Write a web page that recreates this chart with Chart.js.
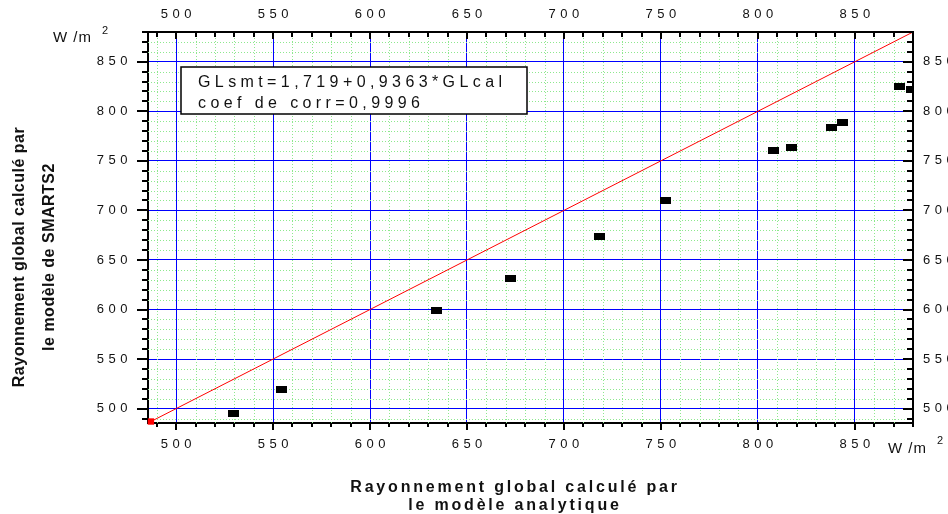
<!DOCTYPE html>
<html lang="fr">
<head>
<meta charset="UTF-8">
<title>Rayonnement global : SMARTS2 / modèle analytique</title>
<script src="https://cdn.jsdelivr.net/npm/chart.js"></script>
<style>
  html, body { margin: 0; padding: 0; background: #fff; overflow: hidden; }
  #wrap { width: 948px; height: 514px; overflow: hidden; }
  canvas { display: block; }
</style>
</head>
<body>
<div id="wrap"><canvas id="chart" width="990" height="514"></canvas></div>
<script>
// GL calculé par le modèle analytique (x) et par SMARTS2 (y), en W/m²
const glAnalytique = [529.4, 554.3, 634.3, 672.4, 718.2, 752.3, 808.2, 817.2, 838.2, 843.9, 873.0, 879.0];
const glSmarts2    = [494.9, 519.0, 598.8, 631.0, 673.7, 709.8, 760.7, 763.8, 783.2, 788.9, 824.8, 822.2];

// première bissectrice y = x (début et fin)
const bissectrice = [487, 880];

// axes identiques en x et en y
const axisMin = 485.5;
const axisMax = 880;
const majorTicks = [500, 550, 600, 650, 700, 750, 800, 850];
const majorStep = 50;
const minorStep = 10;

const regressionText = ['GLsmt=1,719+0,9363*GLcal', 'coef de corr=0,9996'];
const xTitle = ['Rayonnement global calculé par', 'le modèle analytique'];
const yTitle = ['Rayonnement global calculé par', 'le modèle de SMARTS2'];
const unitText = 'W /m';

const FONT = 'Arial, "Liberation Sans", sans-serif';
const TICK_SPACING = 4.5;

// marqueur rectangulaire noir des points de mesure
const marker = document.createElement('canvas');
marker.width = 11;
marker.height = 7;
marker.getContext('2d').fillRect(0, 0, 11, 7);

function scaleOpts(position, size, padding, onArea) {
  const horizontal = position === 'top' || position === 'bottom';
  return {
    type: 'linear',
    position,
    min: axisMin,
    max: axisMax,
    afterBuildTicks: s => { s.ticks = majorTicks.map(v => ({ value: v })); },
    afterFit: s => { if (horizontal) s.height = size; else s.width = size; },
    grid: { display: true, drawOnChartArea: onArea, drawTicks: false, color: '#0000ff', lineWidth: 1 },
    border: { display: true, color: '#000', width: 2 },
    ticks: {
      autoSkip: false, maxRotation: 0, padding,
      labelOffset: horizontal ? TICK_SPACING / 2 : 0,
      color: '#111',
      font: { family: FONT, size: 13 }
    }
  };
}

// espacement des lettres des graduations
const spacing = {
  id: 'spacing',
  beforeLayout(chart) { chart.ctx.letterSpacing = TICK_SPACING + 'px'; },
  beforeDraw(chart) { chart.ctx.letterSpacing = TICK_SPACING + 'px'; }
};

// quadrillage secondaire pointillé vert
const minorGrid = {
  id: 'minorGrid',
  beforeDatasetsDraw(chart) {
    const { ctx, chartArea: a, scales: { x, y } } = chart;
    ctx.save();
    ctx.strokeStyle = '#8ee88e';
    ctx.lineWidth = 1;
    ctx.setLineDash([1, 2]);
    for (let v = Math.ceil(axisMin / minorStep) * minorStep; v < axisMax; v += minorStep) {
      if (v % majorStep === 0) continue;
      const px = Math.round(x.getPixelForValue(v)) + 0.5;
      ctx.beginPath(); ctx.moveTo(px, a.top); ctx.lineTo(px, a.bottom); ctx.stroke();
      const py = Math.round(y.getPixelForValue(v)) + 0.5;
      ctx.beginPath(); ctx.moveTo(a.left, py); ctx.lineTo(a.right, py); ctx.stroke();
    }
    ctx.restore();
  }
};

// graduations : extérieures en bas et à gauche, intérieures en haut et à droite
const tickMarks = {
  id: 'tickMarks',
  afterDatasetsDraw(chart) {
    const { ctx, chartArea: a, scales: { x, y } } = chart;
    ctx.save();
    ctx.strokeStyle = '#000';
    ctx.lineWidth = 2;
    ctx.beginPath();
    for (let v = Math.ceil(axisMin / minorStep) * minorStep; v <= axisMax; v += minorStep) {
      const major = v % majorStep === 0;
      const px = Math.round(x.getPixelForValue(v));
      const py = Math.round(y.getPixelForValue(v));
      ctx.moveTo(px, a.bottom); ctx.lineTo(px, a.bottom + (major ? 7 : 4));
      ctx.moveTo(px, a.top); ctx.lineTo(px, a.top + (major ? 7 : 5));
      ctx.moveTo(a.left, py); ctx.lineTo(a.left - (major ? 11 : 6), py);
      ctx.moveTo(a.right, py); ctx.lineTo(a.right - (major ? 10 : 6), py);
    }
    ctx.stroke();
    ctx.restore();
  }
};

// cadre de régression, titres des axes et unités
const labels = {
  id: 'labels',
  afterDraw(chart) {
    const ctx = chart.ctx;
    ctx.save();
    ctx.fillStyle = '#fff';
    ctx.strokeStyle = '#000';
    ctx.lineWidth = 1.5;
    ctx.fillRect(181, 67, 346, 47);
    ctx.strokeRect(181, 67, 346, 47);

    ctx.fillStyle = '#111';
    ctx.textBaseline = 'alphabetic';
    ctx.textAlign = 'left';
    ctx.font = '16px ' + FONT;
    ctx.letterSpacing = '4.4px';
    ctx.fillText(regressionText[0], 198, 87);
    ctx.fillText(regressionText[1], 198, 107.5);

    // titre de l'axe horizontal
    ctx.font = 'bold 16px ' + FONT;
    ctx.letterSpacing = '2.8px';
    ctx.textAlign = 'center';
    ctx.fillText(xTitle[0], 515, 492);
    ctx.fillText(xTitle[1], 515, 510);

    // titre de l'axe vertical
    ctx.letterSpacing = '0.5px';
    ctx.textBaseline = 'middle';
    ctx.save();
    ctx.translate(20, 257);
    ctx.rotate(-Math.PI / 2);
    ctx.fillText(yTitle[0], 0, 0);
    ctx.restore();
    ctx.save();
    ctx.translate(50, 257);
    ctx.rotate(-Math.PI / 2);
    ctx.fillText(yTitle[1], 0, 0);
    ctx.restore();

    // unités W/m²
    ctx.textAlign = 'left';
    ctx.textBaseline = 'alphabetic';
    ctx.font = '15px ' + FONT;
    ctx.letterSpacing = '1px';
    ctx.fillText(unitText, 53, 42);
    ctx.fillText(unitText, 888, 453);
    ctx.font = '11px ' + FONT;
    ctx.letterSpacing = '0px';
    ctx.fillText('2', 102, 34);
    ctx.fillText('2', 937, 444);
    ctx.restore();
  }
};

new Chart(document.getElementById('chart'), {
  type: 'scatter',
  data: {
    datasets: [
      {
        label: 'GL',
        data: glAnalytique.map((v, i) => ({ x: v, y: glSmarts2[i] })),
        pointStyle: marker,
        pointRadius: 5,
        order: 1
      },
      {
        label: 'y = x',
        data: bissectrice.map(v => ({ x: v, y: v })),
        showLine: true,
        borderColor: '#ff0000',
        backgroundColor: '#ff0000',
        borderWidth: 1,
        pointStyle: 'rect',
        pointRadius: [4.5, 0],
        pointBorderWidth: 0,
        clip: false,
        order: 2
      }
    ]
  },
  options: {
    responsive: false,
    animation: false,
    events: [],
    layout: { padding: { left: 88, right: 17, top: 0, bottom: 51 } },
    plugins: { legend: { display: false }, tooltip: { enabled: false } },
    scales: {
      x: scaleOpts('bottom', 40, 14, true),
      x2: scaleOpts('top', 32, 10, false),
      y: scaleOpts('left', 60, 16, true),
      y2: scaleOpts('right', 60, 10, false)
    }
  },
  plugins: [spacing, minorGrid, tickMarks, labels]
});
</script>
</body>
</html>
